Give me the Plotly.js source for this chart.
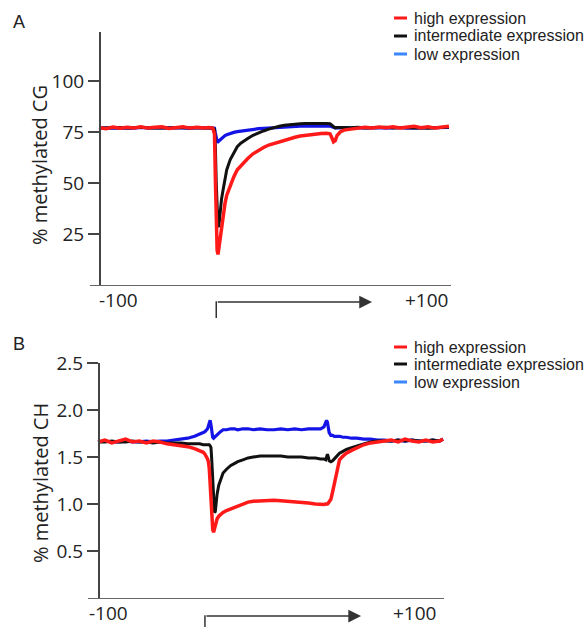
<!DOCTYPE html>
<html><head><meta charset="utf-8">
<script src="https://cdn.plot.ly/plotly-3.0.1.min.js"></script>
<style>html,body{margin:0;padding:0;background:#fff;}#chart{width:588px;height:627px;}</style>
</head><body><div id="chart"></div>
<script>
// ---------- data ----------
const seriesNames = ['high expression', 'intermediate expression', 'low expression'];
const lineColors = ['#ff1a1a', '#111111', '#1414e6'];
const legendColors = ['#ff1a1a', '#111111', '#3a86ff'];
const panelLetters = ['A', 'B'];
const panelTitles = ['% methylated CG', '% methylated CH'];
const xTickVals = [-100, 100];
const xTickLabels = ['-100', '+100'];
const yTicksA = [25, 50, 75, 100];
const yTicksB = [0.5, 1.0, 1.5, 2.0, 2.5];

// Panel A: % methylated CG
const xA = [-100,-96,-92,-88,-84,-80,-76,-72,-68,-64,-60,-56,-52,-48,-44,-40,-37,-35,
  -34,-33.5,-33,-32.5,-32,-31.5,-31,-30,-29,-28,-27,-25,-23,-21,-19,-17,-15,
  -12,-9,-6,-3,0,3,6,9,12,15,18,21,24,27,30,32,33,34,35,36,38,40,
  44,48,52,56,60,64,68,72,76,80,84,88,92,96,100];
const cgHigh = [77.2,76.6,77.4,76.8,77.3,77.0,77.6,76.9,77.3,77.5,76.7,77.2,77.6,76.9,77.3,77.0,77.2,76.8,
  74,52,28,17,15,18,24,30,35,40,44,49,53,56.5,58.5,60.5,62,
  64.3,66,67.4,68.6,69.4,70.4,71.2,72,72.4,73,73.4,73.9,74.1,74.3,74.4,74.1,72.3,70.2,70.8,73.2,75.1,75.9,
  76.4,76.8,77.3,76.9,77.4,77.1,77.6,77.0,77.4,77.8,77.1,77.5,76.9,77.2,77.8];
const cgIntermediate = [77.0,77.1,76.9,77.2,77.0,77.1,77.3,77.0,77.2,77.1,76.9,77.2,77.1,77.0,77.2,77.1,77.0,76.9,
  76.3,68,50,36,28.5,29,34,42,47,52.5,56.5,61.5,65,67.8,69.5,70.8,71.8,
  73.4,74.6,75.5,76.4,77.2,77.8,78.3,78.6,78.8,79.0,79.1,79.2,79.3,79.3,79.2,79.0,78.2,77.3,77.0,77.2,77.3,77.2,
  77.1,77.3,77.0,77.2,77.1,77.3,77.0,77.1,77.2,76.9,77.1,76.8,77.0,77.2,77.4];
const cgLow = [76.9,77.0,76.8,77.1,77.0,76.9,77.2,77.0,77.1,76.9,77.0,77.1,77.0,76.8,77.1,77.0,77.0,77.0,
  76.8,74.5,71.5,70.4,70.2,70.6,71.1,72.0,72.7,73.2,73.6,74.3,74.8,75.2,75.5,75.8,76.0,
  76.3,76.6,76.8,77.0,77.2,77.3,77.4,77.6,77.7,77.8,77.8,77.9,78.0,78.0,78.0,77.9,77.6,77.2,77.0,77.0,77.1,77.0,
  77.0,77.1,76.9,77.0,77.1,76.9,77.0,77.2,76.9,77.0,76.8,77.0,77.1,77.0,77.2];

// Panel B: % methylated CH
const xB = [-100,-96,-92,-88,-84,-80,-76,-72,-68,-64,-60,-56,-52,-48,-44,
  -41,-39,-38,-37,-36.5,-36,-35.5,-35,-34.5,-34,-33.5,-33,-32.5,-32,-31,-30,-29,
  -27.5,-25.5,-23,-21,-19,-16,-13,-10,-6,-2,2,6,10,14,18,22,26,29,31,
  32,32.5,33,33.5,34,35,36,37,38,39,40,42,44,47,50,
  54,58,62,66,70,74,78,82,86,90,94,98,100];
const chHigh = [1.66,1.68,1.65,1.67,1.69,1.66,1.67,1.65,1.67,1.66,1.64,1.63,1.62,1.61,1.59,
  1.57,1.55,1.53,1.50,1.48,1.45,1.38,1.22,1.02,0.84,0.73,0.70,0.74,0.79,0.84,0.87,0.89,
  0.91,0.93,0.95,0.96,0.98,1.00,1.02,1.03,1.035,1.04,1.04,1.035,1.03,1.02,1.015,1.01,1.0,0.995,0.995,
  1.0,1.0,1.0,1.01,1.03,1.05,1.13,1.22,1.32,1.42,1.47,1.51,1.54,1.57,1.60,
  1.63,1.65,1.66,1.67,1.68,1.66,1.69,1.67,1.66,1.68,1.66,1.67,1.69];
const chIntermediate = [1.66,1.66,1.67,1.66,1.66,1.67,1.66,1.66,1.65,1.66,1.65,1.65,1.65,1.64,1.64,
  1.64,1.63,1.63,1.63,1.63,1.63,1.63,1.62,1.60,1.45,1.20,1.00,0.91,0.92,1.10,1.20,1.26,
  1.33,1.37,1.41,1.43,1.45,1.47,1.49,1.50,1.51,1.51,1.51,1.51,1.50,1.50,1.50,1.49,1.49,1.48,1.48,
  1.47,1.50,1.53,1.50,1.46,1.45,1.46,1.48,1.50,1.52,1.54,1.56,1.58,1.60,1.62,
  1.64,1.66,1.67,1.67,1.67,1.68,1.67,1.68,1.67,1.67,1.68,1.67,1.69];
const chLow = [1.66,1.67,1.66,1.66,1.67,1.66,1.66,1.67,1.66,1.67,1.67,1.68,1.69,1.70,1.72,
  1.74,1.76,1.77,1.79,1.80,1.83,1.87,1.89,1.84,1.76,1.71,1.70,1.71,1.72,1.74,1.76,1.77,
  1.79,1.79,1.80,1.80,1.79,1.80,1.80,1.79,1.80,1.79,1.79,1.80,1.79,1.80,1.79,1.80,1.80,1.80,1.82,
  1.86,1.89,1.87,1.81,1.76,1.73,1.73,1.72,1.72,1.72,1.72,1.71,1.71,1.70,1.70,
  1.69,1.69,1.68,1.68,1.67,1.68,1.67,1.68,1.67,1.67,1.68,1.67,1.69];

// gene-body arrow anchors (x units)
const arrowA = [-33, 56];
const arrowB = [-38, 52.5];

// ---------- layout helpers ----------
const W = 588, H = 627;
const px = v => v / W;
const py = v => 1 - v / H;
const tickFont = {family: 'Open Sans', size: 19, color: '#222'};
const legFont = {family: 'Liberation Sans', size: 16, color: '#222'};
const widths = [3.5, 3, 3.2];

const panels = [
  {xs: xA, ys: [cgHigh, cgIntermediate, cgLow], xa: 'x', ya: 'y'},
  {xs: xB, ys: [chHigh, chIntermediate, chLow], xa: 'x2', ya: 'y2'}
];
const traces = [];
panels.forEach(p => {
  [2, 1, 0].forEach(i => {
    traces.push({
      type: 'scatter', mode: 'lines', name: seriesNames[i],
      x: p.xs, y: p.ys[i], xaxis: p.xa, yaxis: p.ya,
      line: {color: lineColors[i], width: widths[i]},
      showlegend: false, hoverinfo: 'skip'
    });
  });
});

const annotations = [];
const shapes = [];

// panel letters & y titles
[[22, 165], [344, 483]].forEach((pos, k) => {
  annotations.push({text: panelLetters[k], xref: 'paper', yref: 'paper', x: px(19), y: py(pos[0]),
    xanchor: 'center', yanchor: 'middle', showarrow: false, font: {family: 'Liberation Sans', size: 18, color: '#222'}});
  annotations.push({text: panelTitles[k], xref: 'paper', yref: 'paper', x: px(40), y: py(pos[1]),
    xanchor: 'center', yanchor: 'middle', textangle: -90, showarrow: false, font: {family: 'Open Sans', size: 20, color: '#222'}});
});

// x end labels
const xLabY = [300, 613];
const xLabShift = [[-2, 1], [-11, -5]];
['x', 'x2'].forEach((ax, k) => {
  xTickVals.forEach((v, j) => {
    annotations.push({text: xTickLabels[j], xref: ax, yref: 'paper', x: v, y: py(xLabY[k]),
      xanchor: j === 0 ? 'left' : 'right', yanchor: 'middle', xshift: xLabShift[k][j],
      showarrow: false, font: tickFont});
  });
});

// gene arrows
[[arrowA, 'x', 302, 318], [arrowB, 'x2', 616, 640]].forEach(([ar, ax, yTop, yBot]) => {
  shapes.push({type: 'line', xref: ax, yref: 'paper', x0: ar[0], x1: ar[0], y0: py(yTop - 0.7), y1: py(yBot),
    line: {color: '#333', width: 1.5}});
  annotations.push({text: '', xref: ax, yref: 'paper', x: ar[1], y: py(yTop), axref: ax, ayref: 'pixel',
    ax: ar[0], ay: 0, showarrow: true, arrowhead: 2, arrowsize: 1.7, arrowwidth: 1.5, arrowcolor: '#333', standoff: 0});
});

// manual legends
[[18, 36, 54], [347, 364, 382]].forEach(rows => {
  rows.forEach((ry, i) => {
    shapes.push({type: 'line', xref: 'paper', yref: 'paper', x0: px(394), x1: px(407), y0: py(ry), y1: py(ry),
      line: {color: legendColors[i], width: 3}});
    annotations.push({text: seriesNames[i], xref: 'paper', yref: 'paper', x: px(412), y: py(ry),
      xanchor: 'left', yanchor: 'middle', showarrow: false, font: legFont});
  });
});

const yCommon = {showline: true, linecolor: '#444', linewidth: 1.5, ticks: 'outside', ticklen: 11,
  tickwidth: 1.5, tickcolor: '#444', showgrid: false, zeroline: false, tickfont: tickFont, anchor: 'free'};
const xCommon = {showline: true, linecolor: '#666', linewidth: 1.3, showgrid: false, zeroline: false,
  showticklabels: false, ticks: ''};

const layout = {
  width: W, height: H, margin: {l: 0, r: 0, t: 0, b: 0},
  paper_bgcolor: '#fff', plot_bgcolor: 'rgba(0,0,0,0)', showlegend: false,
  font: {family: 'Open Sans', color: '#222'},
  xaxis: Object.assign({}, xCommon, {domain: [px(90), px(451)], range: [-105.14, 101.14], anchor: 'y'}),
  yaxis: Object.assign({}, yCommon, {domain: [py(285), py(32)], range: [0, 124], position: px(99),
    tickvals: yTicksA}),
  xaxis2: Object.assign({}, xCommon, {domain: [px(88), px(444)], range: [-105.8, 100.58], anchor: 'y2'}),
  yaxis2: Object.assign({}, yCommon, {domain: [py(598), py(363)], range: [0, 2.5], position: px(98),
    tickvals: yTicksB, tickformat: '.1f'}),
  annotations: annotations, shapes: shapes
};

Plotly.newPlot('chart', traces, layout, {staticPlot: true, displayModeBar: false});
</script>
</body></html>
